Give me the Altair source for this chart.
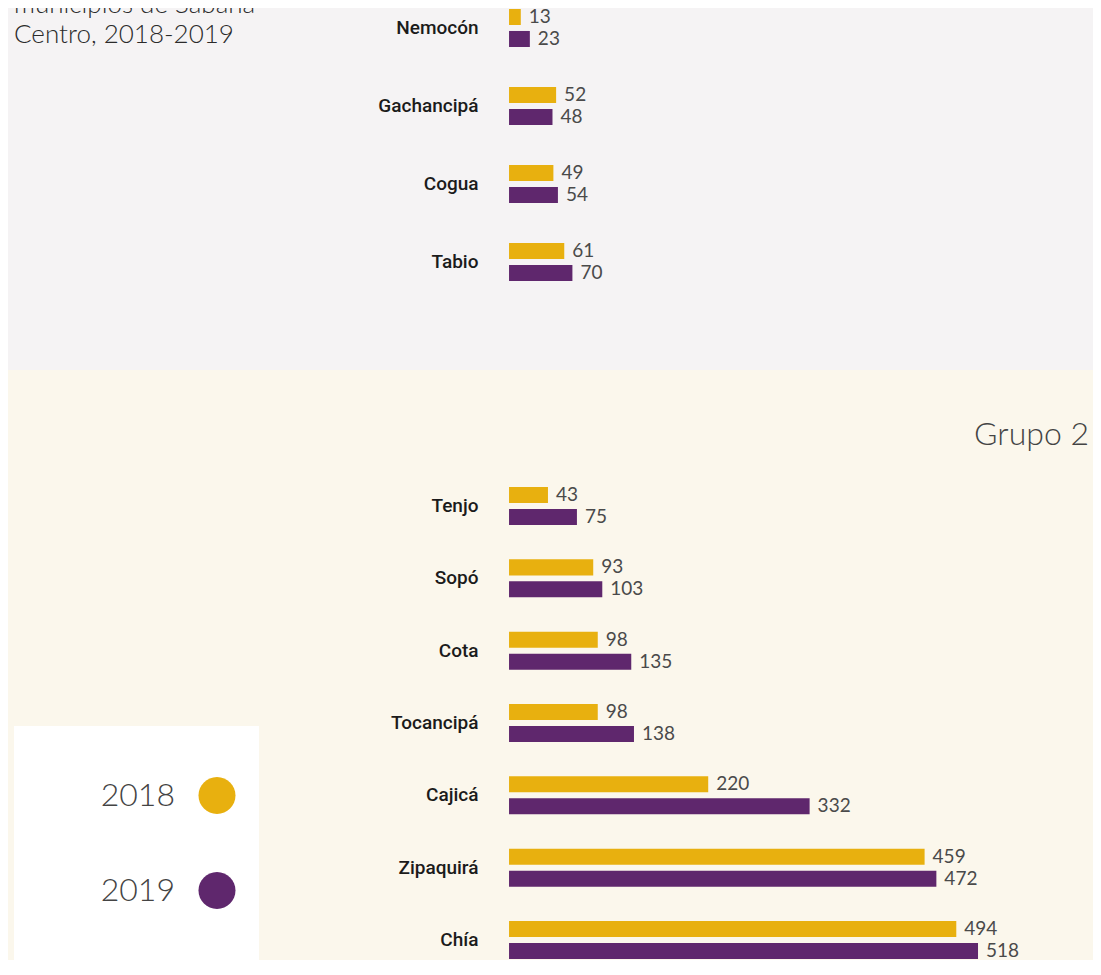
import altair as alt
import pandas as pd

years = ["2018", "2019"]
year_colors = ["#e8b00f", "#5f276d"]

g1_mun = ["Nemocón", "Gachancipá", "Cogua", "Tabio"]
g1_2018 = [13, 52, 49, 61]
g1_2019 = [23, 48, 54, 70]

g2_mun = ["Tenjo", "Sopó", "Cota", "Tocancipá", "Cajicá", "Zipaquirá", "Chía"]
g2_2018 = [43, 93, 98, 98, 220, 459, 494]
g2_2019 = [75, 103, 135, 138, 332, 472, 518]

title_lines = ["municipios de Sabana", "Centro, 2018-2019"]
group2_label = ["Grupo 2"]


def long_table(mun, v18, v19):
    rows = []
    for m, a, b in zip(mun, v18, v19):
        rows.append({"mun": m, "year": years[0], "value": a})
        rows.append({"mun": m, "year": years[1], "value": b})
    return pd.DataFrame(rows)


df1 = long_table(g1_mun, g1_2018, g1_2019)
df2 = long_table(g2_mun, g2_2018, g2_2019)

W = 1085
H1 = 362
H2 = 590
FONT = "Lato"
LABEL_FONT = "Roboto"

xscale = alt.Scale(domain=[-553.4, 645.0], nice=False, zero=False)

# circle of unit radius, drawn to the right of the legend label
shifted_circle = "M 2.27,0 A 1,1 0 1,1 4.27,0 A 1,1 0 1,1 2.27,0 Z"

color = alt.Color(
    "year:N",
    scale=alt.Scale(domain=years, range=year_colors),
    legend=alt.Legend(
        orient="none",
        legendX=130,
        legendY=769,
        title=None,
        padding=0,
        symbolType=shifted_circle,
        symbolSize=1369,
        symbolStrokeWidth=0,
        symbolOpacity=1,
        labelFont=FONT,
        labelFontSize=32,
        labelFontWeight=300,
        labelColor="#444444",
        labelAlign="right",
        labelBaseline="middle",
        labelOffset=0,
        rowPadding=56,
    ),
)


def yaxis():
    return alt.Axis(
        title=None, domain=False, ticks=False, tickSize=0, grid=False,
        labelFont=LABEL_FONT, labelFontSize=19, labelFontWeight=500,
        labelColor="#1b1b1b", labelPadding=0, offset=-470, labelLimit=0,
    )


def panel(df, mun, pi, po, align):
    y = alt.Y("mun:N", sort=mun,
              scale=alt.Scale(domain=mun, paddingInner=pi, paddingOuter=po, align=align),
              axis=yaxis())
    yoff = alt.YOffset("year:N", scale=alt.Scale(domain=years, paddingInner=0.27, paddingOuter=0.045))
    base = alt.Chart(df)
    bars = base.mark_bar().encode(
        x=alt.X("value:Q", scale=xscale, axis=None),
        x2=alt.datum(0),
        y=y, yOffset=yoff, color=color,
    )
    labels = base.mark_text(align="left", baseline="middle", dx=8, font=FONT,
                            fontSize=19, color="#4a4a4a").encode(
        x=alt.X("value:Q", scale=xscale, axis=None),
        y=y, yOffset=yoff, text="value:Q",
    )
    return bars, labels


bars1, labels1 = panel(df1, g1_mun, 0.4872, 0.564, 0)
title_df = pd.DataFrame({"t": ["\n".join(title_lines)]})
title_txt = alt.Chart(title_df).mark_text(
    align="left", baseline="alphabetic", lineBreak="\n", lineHeight=30,
    font=FONT, fontSize=26, fontWeight=300, color="#2b2b2b", clip=True,
).encode(x=alt.value(6), y=alt.value(5), text="t:N")

top = alt.layer(title_txt, bars1, labels1).properties(
    width=W, height=H1, view=alt.ViewBackground(fill="#f5f3f4", strokeWidth=0)
)

bars2, labels2 = panel(df2, g2_mun, 0.447, 0.802, 1)
box = alt.Chart(pd.DataFrame({"k": [1]})).mark_rect(color="#ffffff").encode(
    x=alt.value(6), x2=alt.value(251), y=alt.value(356), y2=alt.value(H2)
)
grupo = alt.Chart(pd.DataFrame({"t": group2_label})).mark_text(
    align="right", baseline="alphabetic", font=FONT, fontSize=32, fontWeight=300, color="#444444"
).encode(x=alt.value(1081), y=alt.value(75), text="t:N")

bottom = alt.layer(box, grupo, bars2, labels2).properties(
    width=W, height=H2, view=alt.ViewBackground(fill="#fbf7ec", strokeWidth=0)
)

chart = (
    alt.vconcat(top, bottom, spacing=0)
    .resolve_scale(y="independent", yOffset="independent", color="shared", x="shared")
    .properties(padding=0, background="#ffffff")
    .configure_view(strokeWidth=0)
)

chart.save("out.html", embed_options={"renderer": "svg", "actions": False})
